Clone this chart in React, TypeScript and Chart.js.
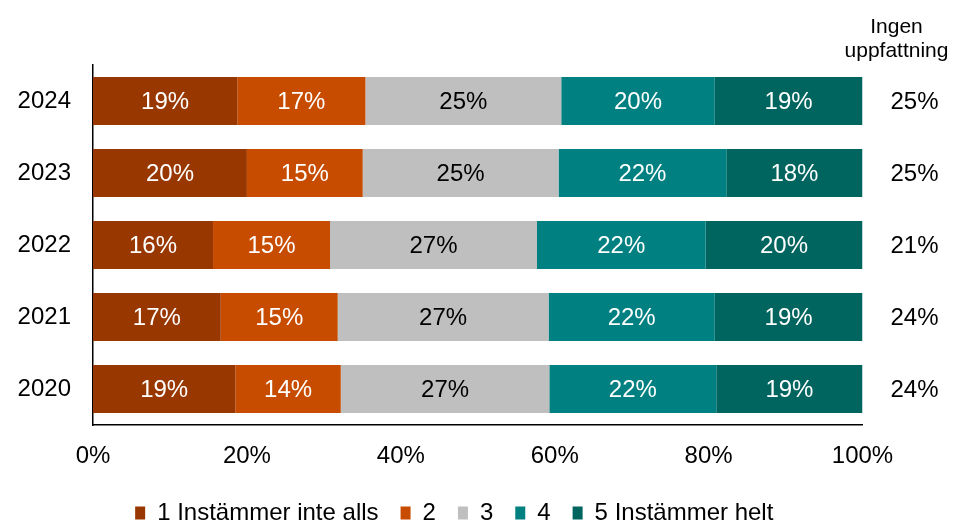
import React, { useEffect, useRef } from "react";
import { Chart, registerables } from "chart.js";

Chart.register(...registerables);

const years = ["2024", "2023", "2022", "2021", "2020"];
const seriesNames = ["1 Instämmer inte alls", "2", "3", "4", "5 Instämmer helt"];
const seriesColors = ["#983700", "#C84C00", "#BFBFBF", "#008080", "#00645F"];
const labelColors = ["#ffffff", "#ffffff", "#000000", "#ffffff", "#ffffff"];

const s1 = [18.75, 20.0, 15.6, 16.6, 18.5];
const s2 = [16.65, 15.05, 15.2, 15.2, 13.7];
const s3 = [25.45, 25.45, 26.9, 27.4, 27.1];
const s4 = [19.95, 21.8, 21.9, 21.6, 21.7];
const s5 = [19.2, 17.7, 20.4, 19.2, 19.0];
const seriesValues = [s1, s2, s3, s4, s5];

const noOpinion = [25, 25, 21, 24, 24];
const noOpinionTitle = ["Ingen", "uppfattning"];
const xTicks = [0, 20, 40, 60, 80, 100];

const FONT = "'Liberation Sans', Arial, sans-serif";

const segmentLabels = {
  id: "segmentLabels",
  afterDatasetsDraw(chart: any) {
    const ctx = chart.ctx;
    ctx.save();
    ctx.font = `24px ${FONT}`;
    ctx.textAlign = "center";
    ctx.textBaseline = "middle";
    chart.data.datasets.forEach((ds: any, di: number) => {
      const meta = chart.getDatasetMeta(di);
      meta.data.forEach((el: any, i: number) => {
        const { x, base, y } = el.getProps(["x", "base", "y"], true);
        ctx.fillStyle = labelColors[di];
        ctx.fillText(Math.round(ds.data[i]) + "%", (x + base) / 2, y + 1);
      });
    });
    ctx.restore();
  },
};

const legendShift = {
  id: "legendShift",
  afterLayout(chart: any) {
    const lg = chart.legend;
    if (lg) {
      lg.left += 23;
      lg.right += 23;
    }
  },
};

const rightColumn = {
  id: "rightColumn",
  afterDraw(chart: any) {
    const ctx = chart.ctx;
    const yScale = chart.scales.y;
    const xr = chart.chartArea.right;
    ctx.save();
    ctx.fillStyle = "#000";
    ctx.textAlign = "center";
    ctx.textBaseline = "alphabetic";
    ctx.font = `21px ${FONT}`;
    ctx.fillText(noOpinionTitle[0], xr + 34, 33);
    ctx.fillText(noOpinionTitle[1], xr + 34, 57);
    ctx.font = `24px ${FONT}`;
    ctx.textBaseline = "middle";
    noOpinion.forEach((v, i) => {
      ctx.fillText(v + "%", xr + 52, yScale.getPixelForValue(i) + 1);
    });
    ctx.restore();
  },
};

export default function App() {
  const ref = useRef<HTMLCanvasElement | null>(null);
  useEffect(() => {
    if (!ref.current) return;
    Chart.defaults.font.family = FONT;
    const chart = new Chart(ref.current, {
      type: "bar",
      data: {
        labels: years,
        datasets: seriesNames.map((name, i) => ({
          label: name,
          data: seriesValues[i],
          backgroundColor: seriesColors[i],
          borderWidth: 0,
          barPercentage: 0.667,
          categoryPercentage: 1,
        })),
      },
      options: {
        indexAxis: "y",
        animation: false,
        responsive: false,
        maintainAspectRatio: false,
        layout: { padding: { top: 65, right: 92.5, left: 0, bottom: -13 } },
        scales: {
          x: {
            stacked: true,
            min: 0,
            max: 100,
            afterBuildTicks: (scale: any) => {
              scale.ticks = xTicks.map((v) => ({ value: v }));
            },
            afterFit: (scale: any) => {
              scale.height = 54;
            },
            grid: { display: false, drawTicks: false },
            border: { display: true, color: "#000", width: 1.5 },
            ticks: {
              padding: 17,
              color: "#000",
              font: { size: 24 },
              maxRotation: 0,
              callback: (v: any) => v + "%",
            },
          },
          y: {
            stacked: true,
            afterFit: (scale: any) => {
              scale.width = 93;
            },
            grid: { display: false, drawTicks: false },
            border: { display: true, color: "#000", width: 1.5 },
            ticks: { padding: 22, color: "#000", font: { size: 24 } },
          },
        },
        plugins: {
          legend: {
            position: "bottom",
            labels: {
              color: "#000",
              font: { size: 24 },
              boxWidth: 10,
              boxHeight: 13,
              padding: 22,
            },
          },
          tooltip: { enabled: false },
        },
      },
      plugins: [segmentLabels, rightColumn, legendShift],
    });
    return () => chart.destroy();
  }, []);
  return (
    <div style={{ position: "absolute", left: 0, top: 0, width: 955, height: 522, background: "#fff" }}>
      <canvas ref={ref} width={955} height={522} style={{ width: 955, height: 522 }} />
    </div>
  );
}
